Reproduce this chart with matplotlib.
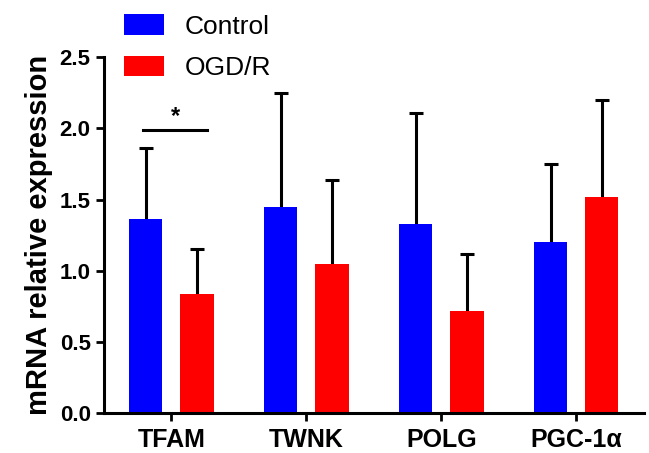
import numpy as np
import matplotlib
matplotlib.use("Agg")
import matplotlib.pyplot as plt

plt.rcParams['font.family'] = ['Liberation Sans', 'DejaVu Sans']

genes = ['TFAM', 'TWNK', 'POLG', 'PGC-1α']
control = [1.36, 1.45, 1.33, 1.20]
control_err = [0.50, 0.80, 0.78, 0.55]
ogd = [0.84, 1.05, 0.72, 1.52]
ogd_err = [0.31, 0.59, 0.40, 0.68]

x = np.arange(len(genes))
w = 0.245
off = 0.19

fig = plt.figure(figsize=(6.49, 4.53), dpi=100)
ax = fig.add_axes([0.160, 0.088, 0.832, 0.786])

ax.bar(x - off, control, w, color='#0000ff', label='Control', zorder=2)
ax.bar(x + off, ogd, w, color='#ff0000', label='OGD/R', zorder=2)
# error bars drawn behind the bars so only the upper half shows
ek = dict(fmt='none', elinewidth=2.2, capthick=2.2, capsize=5, ecolor='black', zorder=1)
ax.errorbar(x - off, control, yerr=control_err, **ek)
ax.errorbar(x + off, ogd, yerr=ogd_err, **ek)

# significance mark for TFAM
ax.plot([-0.207, 0.267], [1.99, 1.99], color='black', lw=2.2)
ax.text(0.03, 2.0, '*', ha='center', va='bottom', fontsize=17, fontweight='bold')

ax.set_xlim(-0.5, 3.5)
ax.set_ylim(0, 2.5)
ax.set_yticks([0, 0.5, 1.0, 1.5, 2.0, 2.5])
ax.set_yticklabels(['0.0', '0.5', '1.0', '1.5', '2.0', '2.5'])
ax.set_xticks(x)
ax.set_xticklabels(genes)
for s in ['top', 'right']:
    ax.spines[s].set_visible(False)
for s in ['left', 'bottom']:
    ax.spines[s].set_linewidth(2.2)
ax.tick_params(width=2, length=6, labelsize=16)
ax.tick_params(axis='x', labelsize=18, pad=5)
for lab in ax.get_xticklabels() + ax.get_yticklabels():
    lab.set_fontweight('bold')
ax.set_ylabel('mRNA relative expression', fontsize=21, fontweight='bold', labelpad=5)

fig.legend(loc='upper left', bbox_to_anchor=(0.191, 0.968), frameon=False,
           fontsize=19, handlelength=1.5, handleheight=0.8, handletextpad=0.8,
           labelspacing=0.65, borderpad=0, borderaxespad=0)

fig.savefig('out.png', dpi=100)
